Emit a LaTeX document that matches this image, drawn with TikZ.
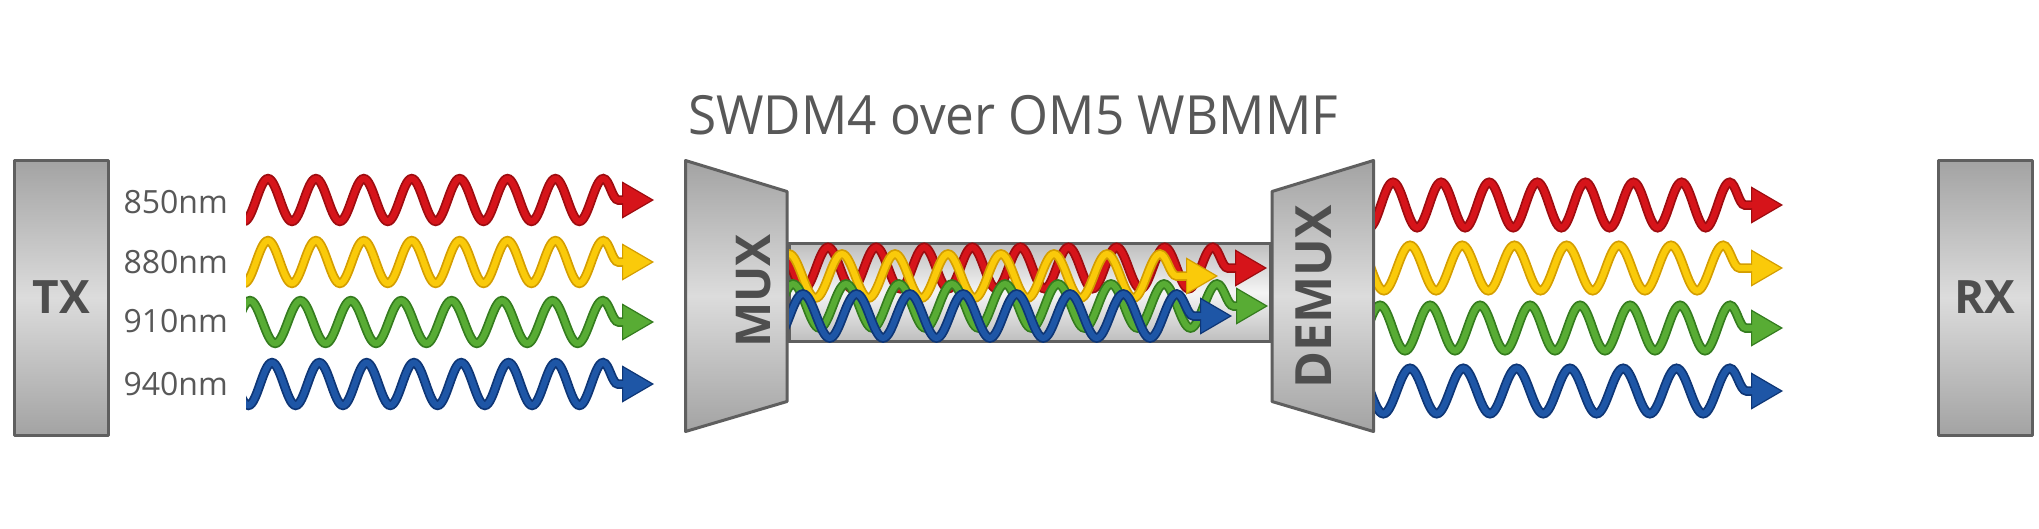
\documentclass[tikz,border=0pt]{standalone}
\usepackage{fontspec}
\setmainfont{Open Sans}
\usetikzlibrary{arrows.meta,decorations.pathmorphing}

\definecolor{wred}{RGB}{214,20,26}
\definecolor{wredd}{RGB}{158,12,16}
\definecolor{wyel}{RGB}{250,202,10}
\definecolor{wyeld}{RGB}{212,158,0}
\definecolor{wgrn}{RGB}{88,172,52}
\definecolor{wgrnd}{RGB}{52,124,30}
\definecolor{wblu}{RGB}{30,86,166}
\definecolor{wblud}{RGB}{14,54,118}
\definecolor{txtgray}{RGB}{88,88,88}
\definecolor{boxtxt}{RGB}{78,78,78}
\definecolor{edgegray}{RGB}{95,95,95}
\definecolor{shA}{RGB}{163,163,163}
\definecolor{shB}{RGB}{220,220,220}
\definecolor{tubeA}{RGB}{190,190,190}
\definecolor{tubeB}{RGB}{245,245,245}

\newcommand\drawwave[8]{% name, colour, y, first crest x, period, crests, tip x, amplitude
  \pgfmathsetmacro\wxs{#4-1.3125*#5}%
  \pgfmathsetmacro\wxe{#4+(#6-0.5)*#5}%
  \pgfmathsetmacro\wpost{#7-\wxe}%
  \pgfmathsetmacro\wamp{#8*4/3}%
  \coordinate (#1s) at (\wxs,#3);%
  \coordinate (#1e) at (#7,#3);%
  \draw[draw=#2d, line width=9.5pt, decorate,
        decoration={snake, amplitude=\wamp pt, segment length=#5pt, post length=\wpost pt},
        -{Triangle[length=32pt,width=37pt,line width=1.2pt,fill=#2]}] (#1s) -- (#1e);%
  \draw[draw=#2, line width=6pt, decorate,
        decoration={snake, amplitude=\wamp pt, segment length=#5pt, post length=\wpost pt},
        shorten >=20pt] (#1s) -- (#1e);%
}

\tikzset{
  boxshade/.style={top color=shA, bottom color=shA, middle color=shB, draw=edgegray, line width=3pt, line join=round},
  endbox/.style={boxshade, rectangle, minimum width=94pt, minimum height=275pt, inner sep=0pt,
                 text=boxtxt, font=\fontsize{46}{48}\selectfont\bfseries},
  muxtext/.style={text=boxtxt, inner sep=0pt, rotate=90},
  lbl/.style={text=txtgray, inner sep=0pt, font=\fontsize{32}{34}\selectfont},
  tubebox/.style={rectangle, top color=tubeA, bottom color=tubeA, middle color=tubeB,
                  draw=edgegray, line width=3pt, minimum width=481pt, minimum height=98pt, inner sep=0pt}
}

\begin{document}
\begin{tikzpicture}[x=1pt,y=-1pt]
\useasboundingbox (0,0) rectangle (2039,528);
\fill[white] (0,0) rectangle (2039,528);

% title
\node[text=txtgray, inner sep=0pt, anchor=base, xscale=0.95,
      font=\fontsize{54}{60}\selectfont] (title) at (1013,134) {SWDM4 over OM5 WBMMF};

% end boxes
\node[endbox] (TX) at (61.5,297.5) {TX};
\node[endbox] (RX) at (1985,297.5) {RX};

% wavelength labels
\node[lbl, anchor=base east] (l850) at (228,213) {850nm};
\node[lbl, anchor=base east] (l880) at (228,273) {880nm};
\node[lbl, anchor=base east] (l910) at (228,332) {910nm};
\node[lbl, anchor=base east] (l940) at (228,395) {940nm};

% fibre tube
\node[tubebox] (fiber) at (1029.5,292.5) {};

% waves inside the fibre
\begin{scope}
\clip (789,240) rectangle (1272,346);
\drawwave{tr}{wred}{268}{828}{48.1}{9}{1267}{15.5}
\drawwave{ty}{wyel}{276}{842}{53}{7}{1218}{16.5}
\drawwave{tg}{wgrn}{306}{846}{53}{8}{1268}{16.5}
\drawwave{tb}{wblu}{316}{803}{53.4}{8}{1232}{16.5}
\end{scope}

% MUX and DEMUX
\path[boxshade] (685.5,160.5) coordinate (muxa) -- (787,191.5) coordinate (muxb)
   -- (787,401.5) coordinate (muxc) -- (685.5,431.5) coordinate (muxd) -- cycle;
\path[boxshade] (1272,191.5) coordinate (dema) -- (1373.5,160.5) coordinate (demb)
   -- (1373.5,431.5) coordinate (demc) -- (1272,401.5) coordinate (demd) -- cycle;
\node[muxtext, font=\fontsize{48}{50}\selectfont\bfseries] (mux) at (754,291) {MUX};
\node[muxtext, font=\fontsize{50}{52}\selectfont\bfseries] (demux) at (1314,297) {DEMUX};

% waves leaving the transmitter
\begin{scope}
\clip (246,150) rectangle (700,440);
\drawwave{lr}{wred}{200}{268}{47.9}{8}{654}{16}
\drawwave{ly}{wyel}{262}{268}{47.9}{8}{654}{16}
\drawwave{lg}{wgrn}{322}{250}{50.4}{8}{654}{16}
\drawwave{lb}{wblu}{384}{272}{47.3}{8}{654}{16}
\end{scope}

% waves leaving the demultiplexer
\begin{scope}
\clip (1375,150) rectangle (1800,440);
\drawwave{rr}{wred}{205}{1393}{48.1}{8}{1783}{17}
\drawwave{ry}{wyel}{268}{1410}{52.2}{7}{1783}{17}
\drawwave{rg}{wgrn}{328}{1380}{50}{8}{1783}{17}
\drawwave{rb}{wblu}{391}{1410}{53.3}{7}{1783}{17}
\end{scope}
\end{tikzpicture}
\end{document}
